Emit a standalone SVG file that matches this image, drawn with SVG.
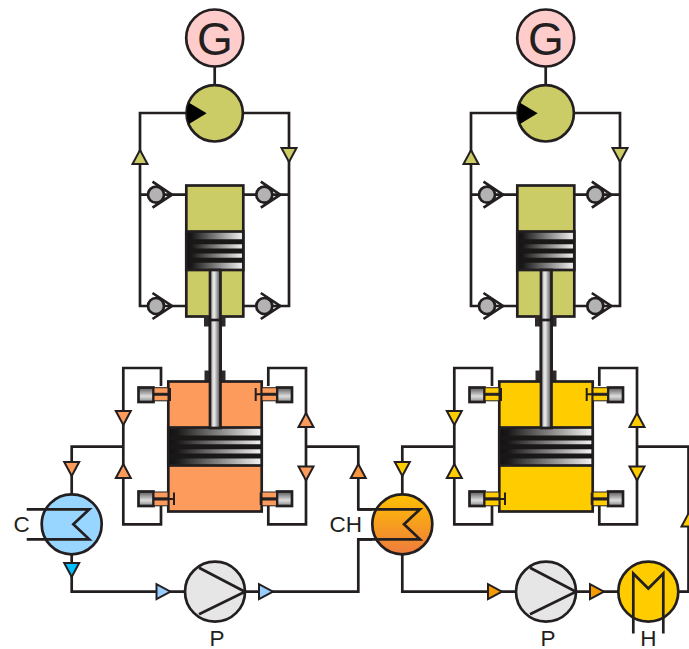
<svg xmlns="http://www.w3.org/2000/svg" width="689" height="649" viewBox="0 0 689 649">
<style>
.l{fill:none;stroke:#231f20;stroke-width:2.7}
.s{stroke:#231f20;stroke-width:2.7}
.t{stroke:#231f20;stroke-width:2;stroke-linejoin:miter}
.e{stroke:#231f20;stroke-width:1}
.h{stroke-width:2}
.lbl{font-family:"Liberation Sans",Arial,sans-serif;font-size:22.5px;fill:#231f20}
.g{font-size:46px}
.olive{fill:#cccc66}.orange{fill:#fd9b5c}.yellow{fill:#ffcc00}
</style>
<defs>
<linearGradient id="pg" x1="0" x2="1" y1="0" y2="0"><stop offset="0" stop-color="#111"/><stop offset=".1" stop-color="#1a1a1a"/><stop offset="1" stop-color="#f4f4f4"/></linearGradient>
<linearGradient id="rg" x1="0" x2="1" y1="0" y2="0"><stop offset="0" stop-color="#999"/><stop offset=".4" stop-color="#eee"/><stop offset="1" stop-color="#444"/></linearGradient>
<linearGradient id="bg" x1="0" x2="0" y1="0" y2="1"><stop offset="0" stop-color="#555"/><stop offset=".6" stop-color="#ddd"/><stop offset="1" stop-color="#888"/></linearGradient>
<linearGradient id="ch" x1="0" x2="0" y1="0" y2="1"><stop offset="0" stop-color="#ffc000"/><stop offset="1" stop-color="#ee7b3e"/></linearGradient>
<g id="checkv"><path class="l" d="M-3.500-13L16 0L-3.500 13"/><circle r="8" fill="#b3b3b3" class="s"/></g>
<path id="tu" class="t" d="M0-7L7.500 7H-7.500Z"/>
<path id="td" class="t" d="M0 7L7.500-7H-7.500Z"/>
<path id="tr" class="t" d="M7 0L-7 7.500V-7.500Z"/>
</defs>

<g id="connectors">
<path class="l" d="M214.700 66V86M186 113H140V306H148M243 113H289V306H272M164 194.700H186M243 194.700H257M140 194.700H148M272 194.700H289M164 306H186M243 306H257"/>
<path class="l" d="M161 386V368H123.300V524.300H161V506M268.300 386V368H306V524.300H268.300V506"/>
<path class="l" d="M123.300 446.700H71.700V494M306 446.700H358.300V509.300H372M71.700 554V591.700H185M245 591.700H358.300V539.300H372"/>
<path class="l" d="M545.700 66V86M517 113H471V306H479M574 113H620V306H603M495 194.700H517M574 194.700H588M471 194.700H479M603 194.700H620M495 306H517M574 306H588"/>
<path class="l" d="M492 386V368H454.300V524.300H492V506M599.300 386V368H637V524.300H599.300V506"/>
<path class="l" d="M454.300 446.700H402.300V494M637 446.700H688.500V591.700H678M402.300 554V591.700H516M576 591.700H618"/>
</g>

<g id="arrows">
<use href="#tu" x="140" y="157" class="olive"/>
<use href="#td" x="289" y="155" class="olive"/>
<use href="#tu" x="471" y="157" class="olive"/>
<use href="#td" x="620" y="155" class="olive"/>
<use href="#td" x="123.300" y="418" class="orange"/>
<use href="#tu" x="123.300" y="471" class="orange"/>
<use href="#tu" x="306" y="420" class="orange"/>
<use href="#td" x="306" y="473.500" class="orange"/>
<use href="#td" x="71.700" y="469" class="orange"/>
<use href="#tu" x="358.300" y="471" fill="#f7963c"/>
<use href="#td" x="454.300" y="418" class="yellow"/>
<use href="#tu" x="454.300" y="471" class="yellow"/>
<use href="#tu" x="637" y="420" class="yellow"/>
<use href="#td" x="637" y="473.500" class="yellow"/>
<use href="#td" x="402.300" y="469" class="yellow"/>
<use href="#tu" x="689" y="519.500" class="yellow"/>
<use href="#td" x="71.700" y="570" fill="#00bfff"/>
<use href="#tr" x="163.500" y="591.700" fill="#99ccff"/>
<use href="#tr" x="266" y="591.700" fill="#99ccff"/>
<use href="#tr" x="495" y="591.700" fill="#f59a00"/>
<use href="#tr" x="597" y="591.700" fill="#f59a00"/>
</g>

<g id="gen1"><circle cx="214.700" cy="38" r="28.500" fill="#ffcccc" class="s"/><text class="lbl g" x="215" y="55" text-anchor="middle">G</text></g>
<g id="gen2"><circle cx="545.700" cy="38" r="28.500" fill="#ffcccc" class="s"/><text class="lbl g" x="546" y="55" text-anchor="middle">G</text></g>
<g id="motor1"><circle cx="214.700" cy="113.300" r="28.200" class="s olive"/><path d="M189 102.700L206.700 113.300L189 124A28 28 0 0 1 189 102.700Z" fill="#000"/></g>
<g id="motor2"><circle cx="545.700" cy="113.300" r="28.200" class="s olive"/><path d="M520 102.700L537.700 113.300L520 124A28 28 0 0 1 520 102.700Z" fill="#000"/></g>

<g id="checkvalves">
<use href="#checkv" x="156" y="194.700"/><use href="#checkv" x="264.300" y="194.700"/><use href="#checkv" x="156" y="306"/><use href="#checkv" x="264.300" y="306"/>
<use href="#checkv" x="487" y="194.700"/><use href="#checkv" x="595.300" y="194.700"/><use href="#checkv" x="487" y="306"/><use href="#checkv" x="595.300" y="306"/>
</g>

<g id="exp1">
<rect x="186.300" y="185.500" width="57" height="131" class="s olive"/>
<rect x="186.300" y="231.500" width="57" height="38.500" fill="url(#pg)" class="s"/>
<path d="M187 241.700H242.500M187 251H242.500M187 260.300H242.500" stroke="#1a1717" stroke-width="5"/>
<rect x="204" y="316" width="21.500" height="10.500" fill="#2e2a2b"/>
<rect x="210" y="270" width="10.500" height="158" fill="url(#rg)" class="s"/>
</g>
<g id="exp2">
<rect x="517.300" y="185.500" width="57" height="131" class="s olive"/>
<rect x="517.300" y="231.500" width="57" height="38.500" fill="url(#pg)" class="s"/>
<path d="M518 241.700H573.500M518 251H573.500M518 260.300H573.500" stroke="#1a1717" stroke-width="5"/>
<rect x="535" y="316" width="21.500" height="10.500" fill="#2e2a2b"/>
<rect x="541" y="270" width="10.500" height="158" fill="url(#rg)" class="s"/>
</g>

<g id="cyl1">
<rect x="204.500" y="370.500" width="21" height="11" fill="#2e2a2b"/>
<rect x="168.300" y="381.500" width="93.400" height="130" class="s orange"/>
<rect x="168.300" y="427.500" width="93.400" height="38" fill="url(#pg)" class="s"/>
<path d="M169 438H261M169 446.800H261M169 456H261" stroke="#1a1717" stroke-width="5"/>
<rect x="210" y="320" width="10.500" height="108" fill="url(#rg)" class="s"/>
</g>
<g id="cyl2">
<rect x="535.500" y="370.500" width="21" height="11" fill="#2e2a2b"/>
<rect x="499.300" y="381.500" width="93.400" height="130" class="s yellow"/>
<rect x="499.300" y="427.500" width="93.400" height="38" fill="url(#pg)" class="s"/>
<path d="M500 438H592M500 446.800H592M500 456H592" stroke="#1a1717" stroke-width="5"/>
<rect x="541" y="320" width="10.500" height="108" fill="url(#rg)" class="s"/>
</g>

<g id="valves1">
<g><rect x="138.500" y="387.500" width="15" height="14.500" fill="url(#bg)" class="s"/><rect x="154" y="387.700" width="14" height="5.600" class="orange e"/><rect x="154" y="395.200" width="14" height="5.600" class="orange e"/><path class="l h" d="M154 394.300H170M170 388V401"/></g>
<g><rect x="138.500" y="491.500" width="15" height="14.500" fill="url(#bg)" class="s"/><rect x="154" y="492" width="14" height="5.800" class="orange e"/><rect x="154" y="500" width="14" height="5.800" class="orange e"/><path class="l h" d="M154 499H174M174 492.500V505"/></g>
<g><rect x="277" y="387.500" width="15" height="14.500" fill="url(#bg)" class="s"/><rect x="262" y="387.700" width="14.500" height="5.600" class="orange e"/><rect x="262" y="395.200" width="14.500" height="5.600" class="orange e"/><path class="l h" d="M276 394.300H255.700M255.700 388V401"/></g>
<g><rect x="277" y="491.500" width="15" height="14.500" fill="url(#bg)" class="s"/><rect x="262" y="492" width="14.500" height="5.800" class="orange e"/><rect x="262" y="500" width="14.500" height="5.800" class="orange e"/><path class="l h" d="M276 499H260.700M260.700 492.500V505"/></g>
</g>
<g id="valves2">
<g><rect x="469.500" y="387.500" width="15" height="14.500" fill="url(#bg)" class="s"/><rect x="485" y="387.700" width="14" height="5.600" class="yellow e"/><rect x="485" y="395.200" width="14" height="5.600" class="yellow e"/><path class="l h" d="M485 394.300H501M501 388V401"/></g>
<g><rect x="469.500" y="491.500" width="15" height="14.500" fill="url(#bg)" class="s"/><rect x="485" y="492" width="14" height="5.800" class="yellow e"/><rect x="485" y="500" width="14" height="5.800" class="yellow e"/><path class="l h" d="M485 499H505M505 492.500V505"/></g>
<g><rect x="608" y="387.500" width="15" height="14.500" fill="url(#bg)" class="s"/><rect x="593" y="387.700" width="14.500" height="5.600" class="yellow e"/><rect x="593" y="395.200" width="14.500" height="5.600" class="yellow e"/><path class="l h" d="M607 394.300H586.700M586.700 388V401"/></g>
<g><rect x="608" y="491.500" width="15" height="14.500" fill="url(#bg)" class="s"/><rect x="593" y="492" width="14.500" height="5.800" class="yellow e"/><rect x="593" y="500" width="14.500" height="5.800" class="yellow e"/><path class="l h" d="M607 499H591.700M591.700 492.500V505"/></g>
</g>

<g id="cooler"><circle cx="71.700" cy="524.300" r="30" fill="#99d6ff" class="s"/><path class="l" d="M26.700 509.300H89.300L73.300 524.300L89.300 539.300H26.700"/><text class="lbl" x="13.500" y="532">C</text></g>
<g id="chx"><circle cx="402.300" cy="524.300" r="30" fill="url(#ch)" class="s"/><path class="l" d="M358.300 509.300H420L404 524.300L420 539.300H358.300"/><text class="lbl" x="329.500" y="532">CH</text></g>
<g id="pump1"><circle cx="215" cy="591.700" r="30" fill="#e6e6e6" class="s"/><path class="l" d="M199 567.700L245 591.700L199 614.300"/><text class="lbl" x="217" y="645.500" text-anchor="middle">P</text></g>
<g id="pump2"><circle cx="546" cy="591.700" r="30" fill="#e6e6e6" class="s"/><path class="l" d="M530 567.700L576 591.700L530 614.300"/><text class="lbl" x="548" y="645.500" text-anchor="middle">P</text></g>
<g id="heater"><circle cx="648.300" cy="591.700" r="30" class="s yellow"/><path class="l" d="M633.300 633.500V573.500L648.300 588.500L663.300 573.500V633.500"/><text class="lbl" x="648.300" y="645.500" text-anchor="middle">H</text></g>
</svg>
